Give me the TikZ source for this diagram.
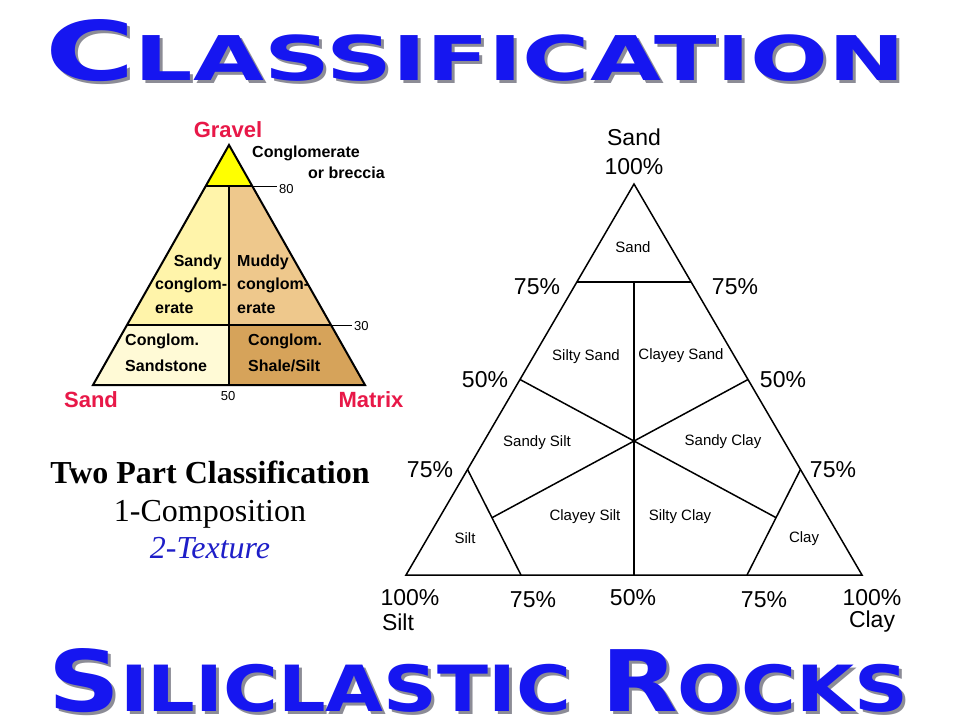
\documentclass[tikz,border=0pt]{standalone}
\usepackage{fontspec}
\setmainfont{Liberation Serif}
\newfontfamily\hel{Liberation Sans}
\newfontfamily\ttlfont{DejaVu Sans}
\usetikzlibrary{calc}
\definecolor{titleblue}{RGB}{22,22,240}
\definecolor{shadowgray}{RGB}{140,140,150}
\definecolor{gravred}{RGB}{232,24,72}
\definecolor{topyellow}{RGB}{255,255,0}
\definecolor{sandycong}{RGB}{255,244,170}
\definecolor{muddycong}{RGB}{238,200,140}
\definecolor{congsand}{RGB}{255,250,214}
\definecolor{congshale}{RGB}{214,163,90}
\definecolor{texblue}{RGB}{30,30,200}
\newcommand\bigsmall[2]{{\fontsize{80}{80}\selectfont #1}{\fontsize{60}{60}\selectfont #2}}
\newcommand\TopTitle{\resizebox{860pt}{61pt}{\ttlfont\bfseries\bigsmall{C}{LASSIFICATION}}}
\newcommand\BotTitle{\resizebox{860pt}{63pt}{\ttlfont\bfseries\bigsmall{S}{ILICLASTIC}\hspace{24pt}\bigsmall{R}{OCKS}}}
\begin{document}
\begin{tikzpicture}[x=1pt,y=-1pt,
  ttl/.style={inner sep=0, anchor=base west},
  lt/.style={inner sep=0, font=\hel\bfseries\fontsize{16}{17}\selectfont},
  rl/.style={inner sep=0, font=\hel\bfseries\fontsize{22}{22}\selectfont, text=gravred},
  tick/.style={inner sep=0, font=\hel\fontsize{13}{13}\selectfont},
  pct/.style={inner sep=0, font=\hel\fontsize{23}{23}\selectfont},
  reg/.style={inner sep=0, font=\hel\fontsize{15}{15}\selectfont},
  tp/.style={inner sep=0, anchor=base, font=\fontsize{32}{32}\selectfont},
  edge/.style={line width=2pt, line join=miter},
  redge/.style={line width=1.5pt, line join=miter}]
\useasboundingbox (0,0) rectangle (960,720);
\fill[white] (0,0) rectangle (960,720);

% titles
\node[ttl, text=shadowgray] (topshadow) at (48,83) {\TopTitle};
\node[ttl, text=titleblue] (toptitle) at (45,80) {\TopTitle};
\node[ttl, text=shadowgray] (botshadow) at (51,714) {\BotTitle};
\node[ttl, text=titleblue] (bottitle) at (48,711) {\BotTitle};

% ---------- left triangle ----------
\coordinate (LA) at (229,145);
\coordinate (LL) at (93,385);
\coordinate (LR) at (365,385);
\coordinate (L80l) at (205.8,186);
\coordinate (L80m) at (229,186);
\coordinate (L80r) at (252.2,186);
\coordinate (L30l) at (127,325);
\coordinate (L30m) at (229,325);
\coordinate (L30r) at (331,325);
\coordinate (L50) at (229,385);
\coordinate (T80) at (277,186);
\coordinate (T30) at (352,325);
\fill[topyellow] (LA) -- (L80r) -- (L80l) -- cycle;
\fill[sandycong] (L80l) -- (L80m) -- (L30m) -- (L30l) -- cycle;
\fill[muddycong] (L80m) -- (L80r) -- (L30r) -- (L30m) -- cycle;
\fill[congsand] (L30l) -- (L30m) -- (L50) -- (LL) -- cycle;
\fill[congshale] (L30m) -- (L30r) -- (LR) -- (L50) -- cycle;
\draw[edge] (LA) -- (LR) -- (LL) -- cycle;
\draw[edge] (L80l) -- (L80r);
\draw[edge] (L30l) -- (L30r);
\draw[edge] (L80m) -- (L50);
\draw[line width=0.6pt] (L80r) -- (T80);
\draw[line width=0.6pt] (L30r) -- (T30);

\node[rl] (gravel) at (228,130) {Gravel};
\node[rl] (lsand) at (91,400) {Sand};
\node[rl] (matrix) at (371,400) {Matrix};
\node[tick, anchor=west] (n80) at (279,189) {80};
\node[tick, anchor=west] (n30) at (354,326) {30};
\node[tick] (n50) at (228,396) {50};
\node[lt, anchor=west] (cg1) at (252,153) {Conglomerate};
\node[lt, anchor=west] (cg2) at (308,173) {or breccia};
\node[lt, anchor=east] (sc1) at (222,262) {Sandy};
\node[lt, anchor=west] (sc2) at (155,285) {conglom-};
\node[lt, anchor=west] (sc3) at (155,308) {erate};
\node[lt, anchor=west] (mc1) at (237,262) {Muddy};
\node[lt, anchor=west] (mc2) at (237,285) {conglom-};
\node[lt, anchor=west] (mc3) at (237,308) {erate};
\node[lt, anchor=west] (cs1) at (125,341) {Conglom.};
\node[lt, anchor=west] (cs2) at (125,366) {Sandstone};
\node[lt, anchor=west] (ch1) at (248,341) {Conglom.};
\node[lt, anchor=west] (ch2) at (248,366) {Shale/Silt};

% ---------- two part text ----------
\node[tp, font=\bfseries\fontsize{32}{32}\selectfont] (two) at (210,483) {Two Part Classification};
\node[tp] (comp) at (210,521) {1-Composition};
\node[tp, font=\itshape\fontsize{32}{32}\selectfont, text=texblue] (text) at (210,558) {2-Texture};

% ---------- right triangle ----------
\coordinate (RA) at (634,184);
\coordinate (RL) at (406,575);
\coordinate (RR) at (862,575);
\coordinate (s75l) at (577,281.75);
\coordinate (s75r) at (691,281.75);
\coordinate (s75m) at (634,281.75);
\coordinate (s50l) at (520,379.5);
\coordinate (s50r) at (748,379.5);
\coordinate (RC) at (634,441);
\coordinate (RB) at (634,575);
\coordinate (p1) at (467.5,469.4);
\coordinate (p2) at (521,575);
\coordinate (q1) at (800.5,469.4);
\coordinate (q2) at (747,575);
\coordinate (pi) at (intersection of s50r--RC and p1--p2);
\coordinate (qi) at (intersection of s50l--RC and q1--q2);
\draw[redge] (RA) -- (RR) -- (RL) -- cycle;
\draw[redge] (s75l) -- (s75r);
\draw[redge] (s75m) -- (RB);
\draw[redge] (s50l) -- (qi);
\draw[redge] (s50r) -- (pi);
\draw[redge] (p1) -- (p2);
\draw[redge] (q1) -- (q2);

\node[pct] (tsand) at (634,137) {Sand};
\node[pct] (t100) at (634,167) {100\%};
\node[pct] (l75) at (537,287) {75\%};
\node[pct] (r75) at (735,287) {75\%};
\node[pct] (l50) at (485,380) {50\%};
\node[pct] (r50) at (783,380) {50\%};
\node[pct] (l75b) at (430,470) {75\%};
\node[pct] (r75b) at (833,470) {75\%};
\node[pct] (b100l) at (410,598) {100\%};
\node[pct] (bsilt) at (398,622) {Silt};
\node[pct] (b75l) at (533,600) {75\%};
\node[pct] (b50) at (633,598) {50\%};
\node[pct] (b75r) at (764,600) {75\%};
\node[pct] (b100r) at (872,598) {100\%};
\node[pct] (bclay) at (872,622) {Clay};

\node[reg] (rsand) at (633,247) {Sand};
\node[reg] (silsand) at (586,357) {Silty Sand};
\node[reg] (clsand) at (681,356) {Clayey Sand};
\node[reg] (sasilt) at (537,443) {Sandy Silt};
\node[reg] (saclay) at (723,442) {Sandy Clay};
\node[reg] (clsilt) at (585,517) {Clayey Silt};
\node[reg] (siclay) at (680,517) {Silty Clay};
\node[reg] (rsilt) at (465,538) {Silt};
\node[reg] (rclay) at (804,539) {Clay};
\end{tikzpicture}
\end{document}
